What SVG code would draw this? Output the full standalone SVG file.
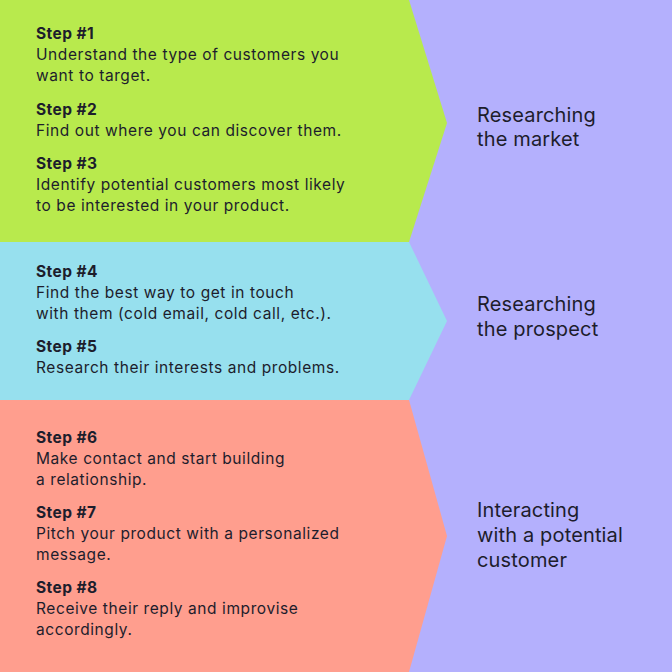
<svg xmlns="http://www.w3.org/2000/svg" width="672" height="672" viewBox="0 0 672 672">
<style>
.t{font-family:Inter,"Noto Sans","Liberation Sans",sans-serif;fill:#1d1d2c}
.b{font-size:15.5px;font-weight:700;letter-spacing:0.45px}
.n{font-size:15.5px;font-weight:400;letter-spacing:0.58px}
.l{font-size:20px;font-weight:400;letter-spacing:0.15px}
</style>
<rect width="672" height="672" fill="#b4b0fd"/>
<g id="stage1">
<polygon points="0,0 409,0 447,123 409,242 0,242" fill="#b8ea4d"/>
<text class="t b" x="36" y="38.5">Step #1</text>
<text class="t n" x="36" y="59.5">Understand the type of customers you</text>
<text class="t n" x="36" y="80.5">want to target.</text>
<text class="t b" x="36" y="114.5">Step #2</text>
<text class="t n" x="36" y="135.5">Find out where you can discover them.</text>
<text class="t b" x="36" y="168.5">Step #3</text>
<text class="t n" x="36" y="189.5">Identify potential customers most likely</text>
<text class="t n" x="36" y="210.5">to be interested in your product.</text>
</g>
<g id="stage2">
<polygon points="0,242 409,242 447,321 409,400 0,400" fill="#97e0ee"/>
<text class="t b" x="36" y="276.5">Step #4</text>
<text class="t n" x="36" y="298">Find the best way to get in touch</text>
<text class="t n" x="36" y="319">with them (cold email, cold call, etc.).</text>
<text class="t b" x="36" y="351.5">Step #5</text>
<text class="t n" x="36" y="373">Research their interests and problems.</text>
</g>
<g id="stage3">
<polygon points="0,400 409,400 447,536 409,672 0,672" fill="#ff9e8e"/>
<text class="t b" x="36" y="442.5">Step #6</text>
<text class="t n" x="36" y="464">Make contact and start building</text>
<text class="t n" x="36" y="485">a relationship.</text>
<text class="t b" x="36" y="517.5">Step #7</text>
<text class="t n" x="36" y="539">Pitch your product with a personalized</text>
<text class="t n" x="36" y="560">message.</text>
<text class="t b" x="36" y="592.5">Step #8</text>
<text class="t n" x="36" y="614">Receive their reply and improvise</text>
<text class="t n" x="36" y="635">accordingly.</text>
</g>
<g id="label1">
<text class="t l" x="477" y="121.5">Researching</text>
<text class="t l" x="477" y="146">the market</text>
</g>
<g id="label2">
<text class="t l" x="477" y="311">Researching</text>
<text class="t l" x="477" y="336">the prospect</text>
</g>
<g id="label3">
<text class="t l" x="477" y="516.5">Interacting</text>
<text class="t l" x="477" y="542">with a potential</text>
<text class="t l" x="477" y="567">customer</text>
</g>
<g id="connectors"></g>
</svg>
